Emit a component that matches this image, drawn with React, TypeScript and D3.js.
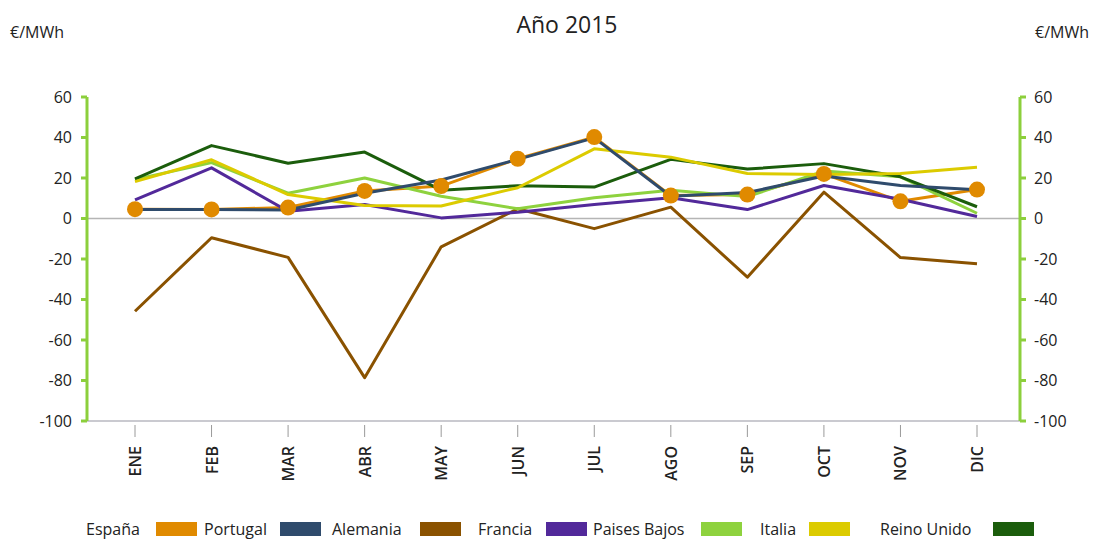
import React from 'react';
import * as d3 from 'd3';

const months = ['ENE', 'FEB', 'MAR', 'ABR', 'MAY', 'JUN', 'JUL', 'AGO', 'SEP', 'OCT', 'NOV', 'DIC'];
const yTicks = [60, 40, 20, 0, -20, -40, -60, -80, -100];

const espana = [4.6, 4.5, 5.4, 13.6, 16, 29.5, 40.2, 11.3, 11.8, 22, 8.5, 14.3];
const portugal = [4.4, 4.4, 4.2, 12.5, 19, 29.2, 39.8, 11, 12.8, 21, 16.3, 14.2];
const alemania = [-45.8, -9.5, -19.2, -78.6, -14, 4.8, -5, 5.6, -29, 13, -19.3, -22.3];
const francia = [9.2, 25, 3.6, 6.9, 0.3, 3.1, 6.9, 10.2, 4.4, 16.3, 9.5, 1];
const paisesBajos = [19.3, 27.6, 12.5, 20, 11, 4.8, 10.3, 14, 10.8, 23.4, 20.6, 2.6];
const italia = [18.2, 29, 11.8, 6.4, 6.2, 15.2, 34.4, 30.3, 22.2, 21.7, 22.2, 25.3];
const reinoUnido = [19.6, 36, 27.3, 32.8, 14, 16.2, 15.5, 29.2, 24.4, 27.1, 20.6, 5.8];

const seriesNames = ['España', 'Portugal', 'Alemania', 'Francia', 'Paises Bajos', 'Italia', 'Reino Unido'];
const seriesColors = ['#e08a00', '#2f4b6c', '#8a5200', '#52299a', '#8ed23e', '#dccb00', '#1b5d0c'];
const seriesValues = [espana, portugal, alemania, francia, paisesBajos, italia, reinoUnido];

// draw order: back to front (Portugal sits on top of España's line)
const drawOrder = [2, 0, 4, 3, 6, 5, 1];

const legendTextX = [86, 204, 332, 478, 593, 760, 880];
const legendSwatchX = [156, 280, 420, 546, 701, 809, 993];

const font = '"Open Sans", sans-serif';
const axisGreen = '#8ccf3c';

export default function App() {
  const width = 1106;
  const height = 542;
  const left = 87;
  const right = 1020;

  const x = d3.scalePoint<string>().domain(months).range([135, 977]);
  const y = d3.scaleLinear().domain([-100, 60]).range([421, 97]);

  const line = d3.line<number>()
    .x((_, i) => x(months[i]) as number)
    .y(d => y(d));

  return (
    <svg width={width} height={height} style={{ position: 'absolute', left: 0, top: 0, background: 'white' }}>
      <text x={567} y={33} textAnchor="middle" fontFamily={font} fontSize={23} fill="#222">Año 2015</text>
      <text x={10} y={38} fontFamily={font} fontSize={16} fill="#222">€/MWh</text>
      <text x={1035} y={38} fontFamily={font} fontSize={16} fill="#222">€/MWh</text>

      {/* zero line and bottom axis */}
      <line x1={left} x2={right} y1={y(0)} y2={y(0)} stroke="#b5b5b5" strokeWidth={1.5} />
      <line x1={left} x2={right} y1={y(-100)} y2={y(-100)} stroke="#b8b8c0" strokeWidth={1.5} />

      {/* y axes */}
      <line x1={left} x2={left} y1={y(60)} y2={y(-100)} stroke={axisGreen} strokeWidth={3} />
      <line x1={right} x2={right} y1={y(60)} y2={y(-100)} stroke={axisGreen} strokeWidth={3} />
      {yTicks.map(t => (
        <g key={t}>
          <line x1={left - 6} x2={left} y1={y(t)} y2={y(t)} stroke={axisGreen} strokeWidth={3} />
          <line x1={right} x2={right + 6} y1={y(t)} y2={y(t)} stroke={axisGreen} strokeWidth={3} />
          <text x={72} y={y(t)} dy="0.35em" textAnchor="end" fontFamily={font} fontSize={16} fill="#222">{t}</text>
          <text x={1034} y={y(t)} dy="0.35em" textAnchor="start" fontFamily={font} fontSize={16} fill="#222">{t}</text>
        </g>
      ))}

      {/* x ticks and labels */}
      {months.map(m => (
        <g key={m}>
          <line x1={x(m)} x2={x(m)} y1={425} y2={437} stroke="#9a9a9a" strokeWidth={1} />
          <text
            transform={`translate(${(x(m) as number) + 6},446) rotate(-90)`}
            textAnchor="end"
            fontFamily={font}
            fontSize={16}
            fontWeight={600}
            fill="#222"
          >{m}</text>
        </g>
      ))}

      {/* series lines */}
      {drawOrder.map(i => (
        <path
          key={seriesNames[i]}
          d={line(seriesValues[i]) || ''}
          fill="none"
          stroke={seriesColors[i]}
          strokeWidth={3}
          strokeLinejoin="round"
        />
      ))}

      {/* España markers */}
      {espana.map((v, i) => (
        <circle key={i} cx={x(months[i])} cy={y(v)} r={8} fill={seriesColors[0]} />
      ))}

      {/* legend */}
      {seriesNames.map((n, i) => (
        <g key={n}>
          <text x={legendTextX[i]} y={535} fontFamily={font} fontSize={16} fill="#222">{n}</text>
          <rect x={legendSwatchX[i]} y={522} width={41} height={14} fill={seriesColors[i]} />
        </g>
      ))}
    </svg>
  );
}
